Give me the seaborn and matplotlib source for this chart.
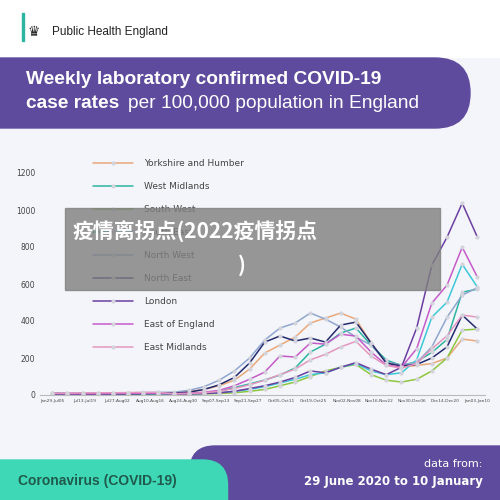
import numpy as np
import pandas as pd
import matplotlib
matplotlib.use("Agg")
import matplotlib.pyplot as plt
from matplotlib.patches import FancyBboxPatch, Rectangle
import seaborn as sns

tick_labels = ["Jan29-Jul05", "Jul13-Jul19", "Jul27-Aug02", "Aug10-Aug16", "Aug24-Aug30",
               "Sep07-Sep13", "Sep21-Sep27", "Oct05-Oct11", "Oct19-Oct25", "Nov02-Nov08",
               "Nov16-Nov22", "Nov30-Dec06", "Dec14-Dec20", "Jan03-Jan10"]

yorkshire = [8, 7, 6, 6, 7, 8, 9, 10, 12, 18, 30, 50, 80, 140, 227, 270, 313, 389, 416, 443, 410, 281, 173, 150, 160, 170, 200, 302, 292]
west_mid = [6, 5, 5, 5, 6, 6, 7, 8, 6, 8, 12, 20, 40, 60, 81, 108, 146, 232, 275, 335, 362, 270, 189, 160, 180, 230, 300, 556, 572]
south_west = [4, 4, 4, 4, 5, 5, 5, 5, 4, 5, 6, 8, 12, 20, 30, 50, 70, 100, 130, 150, 165, 110, 80, 70, 85, 130, 200, 351, 356]
south_east = [5, 5, 5, 5, 5, 6, 6, 6, 5, 6, 8, 12, 20, 30, 45, 65, 85, 110, 120, 150, 170, 130, 110, 120, 190, 421, 502, 707, 583]
north_west = [10, 9, 9, 10, 11, 12, 13, 14, 15, 25, 45, 80, 130, 200, 297, 362, 389, 443, 410, 367, 313, 270, 178, 162, 175, 260, 420, 540, 580]
north_east = [6, 6, 5, 5, 6, 6, 7, 8, 10, 15, 30, 55, 95, 173, 286, 319, 292, 308, 286, 378, 394, 281, 173, 157, 165, 200, 260, 432, 356]
london = [9, 8, 8, 8, 8, 9, 9, 10, 5, 6, 8, 12, 20, 35, 50, 70, 95, 130, 120, 150, 175, 140, 110, 150, 362, 702, 853, 1037, 853]
east_eng = [7, 7, 7, 7, 8, 8, 9, 9, 8, 10, 15, 25, 50, 85, 124, 211, 205, 281, 275, 329, 318, 232, 162, 150, 250, 497, 594, 799, 637]
east_mid = [10, 10, 11, 12, 12, 13, 14, 14, 6, 8, 12, 20, 35, 55, 80, 110, 140, 190, 220, 260, 290, 210, 160, 145, 170, 250, 320, 432, 421]

regions = ["Yorkshire and Humber", "West Midlands", "South West", "South East", "North West",
           "North East", "London", "East of England", "East Midlands"]
series = [yorkshire, west_mid, south_west, south_east, north_west, north_east, london, east_eng, east_mid]
colors = ["#E9A87A", "#2BB5A0", "#8DC63F", "#3CC8D8", "#8FA6CF", "#232A6E", "#6B3FA0", "#C45BC8", "#E596BE"]

n = len(yorkshire)
rows = []
for r, s in zip(regions, series):
    for w, v in enumerate(s):
        rows.append({"week": w, "rate": v, "region": r})
df = pd.DataFrame(rows)

sns.set_style("white")
fig = plt.figure(figsize=(5, 5), dpi=100)
fig.patch.set_facecolor("#F4F5FA")

# header
fig.add_artist(Rectangle((0, 1 - 57 / 500), 1, 57 / 500, transform=fig.transFigure, color="white", zorder=0))
fig.add_artist(Rectangle((0.043, 1 - 41 / 500), 0.004, 28 / 500, transform=fig.transFigure, color="#2BB5A0"))
fig.text(0.105, 1 - 32 / 500, "Public Health England", fontsize=8.5, color="#222", va="center", family="Liberation Sans")
fig.text(0.055, 1 - 32 / 500, "♛", fontsize=10, color="#222", va="center")
fig.add_artist(FancyBboxPatch((-0.1, 1 - 128 / 500), 1.04, 70 / 500, boxstyle="round,pad=0,rounding_size=0.07",
                              transform=fig.transFigure, color="#5F4B9E"))
fig.text(0.053, 1 - 80 / 500, "Weekly laboratory confirmed COVID-19", fontsize=13.8, weight="bold",
         color="white", va="center", family="Liberation Sans")
fig.text(0.053, 1 - 103 / 500, "case rates", fontsize=13.8, weight="bold", color="white", va="center",
         family="Liberation Sans")
fig.text(0.255, 1 - 103 / 500, "per 100,000 population in England", fontsize=13.8, color="white",
         va="center", family="Liberation Sans")

# footer
fig.add_artist(FancyBboxPatch((0.38, -0.1), 0.72, 0.1 + 54 / 500, boxstyle="round,pad=0,rounding_size=0.05",
                              transform=fig.transFigure, color="#5F4B9E"))
fig.add_artist(FancyBboxPatch((-0.1, -0.1), 0.555, 0.1 + 40 / 500, boxstyle="round,pad=0,rounding_size=0.05",
                              transform=fig.transFigure, color="#3FD8B6"))
fig.text(0.035, 1 - 481 / 500, "Coronavirus (COVID-19)", fontsize=10, weight="bold", color="#1F5A4C",
         va="center", family="Liberation Sans")
fig.text(0.965, 1 - 464 / 500, "data from:", fontsize=8, color="white", ha="right", va="center")
fig.text(0.965, 1 - 481 / 500, "29 June 2020 to 10 January", fontsize=8.5, weight="bold", color="white",
         ha="right", va="center")

ax = fig.add_axes([0.08, 0.21, 0.89, 0.444])
ax.set_facecolor("#F4F5FA")
sns.lineplot(data=df, x="week", y="rate", hue="region", hue_order=regions, palette=colors, ax=ax,
             marker="o", markersize=3, markerfacecolor="#D3D3DC", markeredgewidth=0, linewidth=1.1)
ax.set_xlim(-0.8, n - 0.5)
ax.set_ylim(0, 1200)
ax.set_yticks(range(0, 1201, 200))
ax.set_xticks(np.linspace(0, n - 1, len(tick_labels)))
ax.set_xticklabels(tick_labels, fontsize=3.1, color="#444")
ax.tick_params(axis="y", labelsize=5.5, colors="#444", length=0)
ax.tick_params(axis="x", length=4, color="#BBB", direction="in", pad=3)
ax.set_xlabel("")
ax.set_ylabel("")
for s in ["top", "right", "left"]:
    ax.spines[s].set_visible(False)
ax.spines["bottom"].set_color("#BBB")
leg = ax.legend(loc="upper left", bbox_to_anchor=(0.1, 1.1), frameon=False, fontsize=6.5,
                labelspacing=1.55, handlelength=4.5, handletextpad=1.2)
for t in leg.get_texts():
    t.set_color("#444")

# overlay watermark
fig.add_artist(Rectangle((0.13, 1 - 290 / 500), 0.75, 82 / 500, transform=fig.transFigure,
                         color="#7F7F7F", alpha=0.8, zorder=10))
fig.text(0.145, 1 - 232 / 500, "疫情离拐点(2022疫情拐点", fontsize=15, weight="bold", color="white",
         va="center", family=["Noto Sans CJK SC", "DejaVu Sans"], zorder=11)
fig.text(0.475, 1 - 265 / 500, ")", fontsize=15, weight="bold", color="white",
         va="center", family=["Noto Sans CJK SC", "DejaVu Sans"], zorder=11)

fig.savefig("out.png", dpi=100, facecolor=fig.get_facecolor())
